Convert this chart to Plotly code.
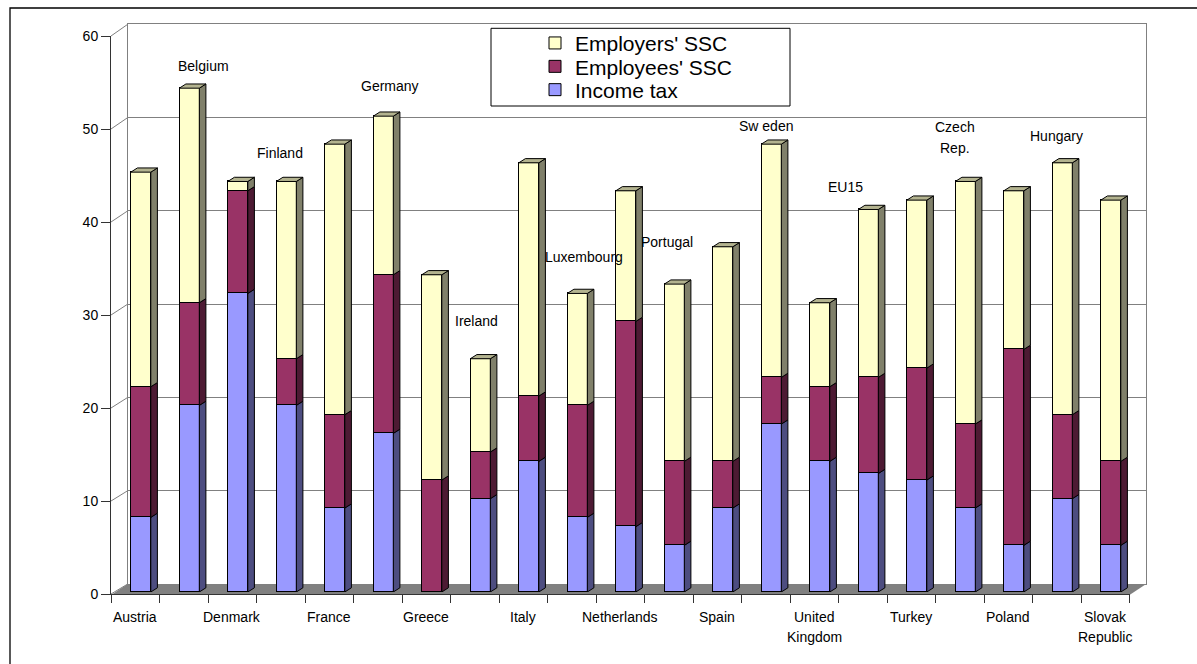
import plotly.graph_objects as go

# ---------------- data ----------------
countries = ["Austria", "Belgium", "Denmark", "Finland", "France", "Germany", "Greece",
             "Ireland", "Italy", "Luxembourg", "Netherlands", "Portugal", "Spain", "Sweden",
             "United Kingdom", "EU15", "Turkey", "Czech Rep.", "Poland", "Hungary",
             "Slovak Republic"]
display_labels = ["Austria", "Belgium", "Denmark", "Finland", "France", "Germany", "Greece",
                  "Ireland", "Italy", "Luxembourg", "Netherlands", "Portugal", "Spain", "Sw eden",
                  "United\nKingdom", "EU15", "Turkey", "Czech\nRep.", "Poland", "Hungary",
                  "Slovak\nRepublic"]
income_tax = [8, 20, 32, 20, 9, 17, 0, 10, 14, 8, 7, 5, 9, 18, 14, 12.7, 12, 9, 5, 10, 5]
employees_ssc = [14, 11, 11, 5, 10, 17, 12, 5, 7, 12, 22, 9, 5, 5, 8, 10.3, 12, 9, 21, 9, 9]
employers_ssc = [23, 23, 1, 19, 29, 17, 22, 10, 25, 12, 14, 19, 23, 25, 9, 18, 18, 26, 17, 27, 28]
series_names = ["Income tax", "Employees' SSC", "Employers' SSC"]
y_ticks = [0, 10, 20, 30, 40, 50, 60]

# ---------------- layout geometry (pixels) ----------------
W, H = 1197, 664
CAT_W = 48.5
FRONT_LEFT, FRONT_Y0, FRONT_Y60 = 111.0, 594.0, 36.0
WALL_LEFT, WALL_Y0, WALL_Y60 = 127.7, 584.0, 24.3
BAR_C0, BAR_Y0, BAR_Y60 = 140.8, 592.0, 32.2
BAR_W_PX, DX_PX, DY_PX = 20.0, 6.6, 4.2
FONT = "Liberation Sans, Arial, sans-serif"


def fx(p):
    return p / W


def fy(p):
    return 1 - p / H


n = len(countries)
xs = list(range(n))

C = {
    "inc": "#9999ff", "inc_side": "#4d4d80",
    "emp": "#993366", "emp_side": "#4d1a33",
    "er": "#ffffcc", "er_side": "#80806a", "top": "#b3b38f",
}

fig = go.Figure()

# back wall subplot (x / y)
fig.add_trace(go.Scatter(x=[None], y=[None], xaxis="x", yaxis="y", showlegend=False, hoverinfo="skip"))

# bars (x2 / y2)
bar_w = BAR_W_PX / CAT_W
legend_ids = ["legend3", "legend2", "legend"]
for name, vals, col, lg in zip(series_names, [income_tax, employees_ssc, employers_ssc],
                               [C["inc"], C["emp"], C["er"]], legend_ids):
    fig.add_trace(go.Bar(x=xs, y=vals, name=name, legend=lg,
                         marker=dict(color=col, line=dict(color="black", width=1)),
                         width=bar_w, xaxis="x2", yaxis="y2", hoverinfo="skip"))

# 3D side and top faces
dx = DX_PX / CAT_W
dy = DY_PX / ((BAR_Y0 - BAR_Y60) / 60)
side_cols = [C["inc_side"], C["emp_side"], C["er_side"]]
bottoms = [0] * n
for k, vals in enumerate([income_tax, employees_ssc, employers_ssc]):
    px_, py_ = [], []
    for i in range(n):
        b, t = bottoms[i], bottoms[i] + vals[i]
        if vals[i] > 0:
            xr = i + bar_w / 2
            px_ += [xr, xr + dx, xr + dx, xr, xr, None]
            py_ += [b, b + dy, t + dy, t, b, None]
        bottoms[i] = t
    fig.add_trace(go.Scatter(x=px_, y=py_, mode="lines", fill="toself", fillcolor=side_cols[k],
                             line=dict(color="black", width=1), xaxis="x2", yaxis="y2",
                             showlegend=False, hoverinfo="skip"))
tx, ty = [], []
for i in range(n):
    xl, xr, T = i - bar_w / 2, i + bar_w / 2, bottoms[i]
    tx += [xl, xl + dx, xr + dx, xr, xl, None]
    ty += [T, T + dy, T + dy, T, T, None]
fig.add_trace(go.Scatter(x=tx, y=ty, mode="lines", fill="toself", fillcolor=C["top"],
                         line=dict(color="black", width=1), xaxis="x2", yaxis="y2",
                         showlegend=False, hoverinfo="skip"))

# front axes (x3 / y3)
fig.add_trace(go.Scatter(x=[None], y=[None], xaxis="x3", yaxis="y3", showlegend=False, hoverinfo="skip"))

wall_right = WALL_LEFT + n * CAT_W
front_right = FRONT_LEFT + n * CAT_W
bar_left = BAR_C0 - CAT_W / 2

legend_style = dict(xanchor="left", yanchor="middle", bgcolor="rgba(0,0,0,0)", borderwidth=0,
                    font=dict(size=21, family=FONT, color="black"))
LEG_X = 535
legend_rows = {"legend": 43.3, "legend2": 66.7, "legend3": 90.0}

fig.update_layout(
    width=W, height=H, autosize=False,
    margin=dict(l=0, r=0, t=0, b=0, pad=0, autoexpand=False),
    paper_bgcolor="white", plot_bgcolor="rgba(0,0,0,0)",
    barmode="stack", bargap=0,
    font=dict(family=FONT, size=14, color="black"),
    xaxis=dict(domain=[fx(WALL_LEFT), fx(wall_right)], range=[0, 1], anchor="y",
               showgrid=False, zeroline=False, showticklabels=False, ticks="",
               showline=True, mirror=True, linecolor="#808080", linewidth=1, layer="below traces"),
    yaxis=dict(domain=[fy(WALL_Y0), fy(WALL_Y60)], range=[0, 60], anchor="x",
               tickvals=y_ticks, showgrid=True, gridcolor="#808080", gridwidth=1,
               zeroline=False, showticklabels=False, ticks="",
               showline=True, mirror=True, linecolor="#808080", linewidth=1, layer="below traces"),
    xaxis2=dict(domain=[fx(bar_left), fx(bar_left + n * CAT_W)], range=[-0.5, n - 0.5],
                anchor="y2", visible=False),
    yaxis2=dict(domain=[fy(BAR_Y0), fy(BAR_Y60)], range=[0, 60], anchor="x2", visible=False),
    xaxis3=dict(domain=[fx(FRONT_LEFT), fx(front_right)], range=[-0.5, n - 0.5], anchor="y3",
                tickvals=[i - 0.5 for i in range(n + 1)], ticks="outside", ticklen=8,
                tickcolor="#333333", showticklabels=False, showgrid=False, zeroline=False,
                showline=True, linecolor="#333333", linewidth=1),
    yaxis3=dict(domain=[fy(FRONT_Y0), fy(FRONT_Y60)], range=[0, 60], anchor="x3",
                tickvals=y_ticks, ticks="outside", ticklen=9, tickcolor="#333333",
                tickfont=dict(size=14, family=FONT, color="black"),
                showgrid=False, zeroline=False, showline=True, linecolor="#333333", linewidth=1),
)
for lg, row_y in legend_rows.items():
    fig.update_layout({lg: dict(x=fx(LEG_X), y=fy(row_y), **legend_style)})

shapes = []
# floor
shapes.append(dict(type="path", xref="paper", yref="paper", layer="below",
                   path=f"M {fx(FRONT_LEFT)},{fy(FRONT_Y0 + 1)} L {fx(front_right)},{fy(FRONT_Y0 + 1)} "
                        f"L {fx(wall_right)},{fy(WALL_Y0)} L {fx(WALL_LEFT)},{fy(WALL_Y0)} Z",
                   fillcolor="#808080", line=dict(width=0)))
# side-wall diagonals
for v in y_ticks:
    yf = FRONT_Y0 + (FRONT_Y60 - FRONT_Y0) * v / 60
    yw = WALL_Y0 + (WALL_Y60 - WALL_Y0) * v / 60
    shapes.append(dict(type="line", xref="paper", yref="paper", layer="below",
                       x0=fx(FRONT_LEFT), y0=fy(yf), x1=fx(WALL_LEFT), y1=fy(yw),
                       line=dict(color="#808080", width=1)))
# legend box
shapes.append(dict(type="rect", xref="paper", yref="paper", layer="above",
                   x0=fx(491), y0=fy(28.3), x1=fx(790), y1=fy(106),
                   fillcolor="white", line=dict(color="black", width=1)))
# outer frame (extends past the bottom/right edges)
shapes.append(dict(type="rect", xref="paper", yref="paper", layer="below",
                   x0=fx(10), y0=fy(8), x1=fx(1210), y1=fy(680),
                   line=dict(color="black", width=1.3)))
fig.update_layout(shapes=shapes)

annotations = []
# category labels under the front axis (every other category)
for i in range(0, n, 2):
    for k, line in enumerate(display_labels[i].split("\n")):
        annotations.append(dict(x=i, y=fy(616.5 + 20.5 * k), xref="x3", yref="paper",
                                text=line, showarrow=False, xanchor="center", yanchor="middle",
                                font=dict(size=14, family=FONT, color="black")))
# labels placed above the remaining bars: index -> (x shift, y in bar units)
label_pos = {1: (0.30, 56.4), 3: (-0.12, 47.1), 5: (0.14, 54.2), 7: (-0.07, 29.0),
             9: (0.13, 35.9), 11: (-0.15, 37.5), 13: (-0.10, 49.9), 15: (-0.48, 43.4),
             17: (-0.22, 48.7), 19: (-0.11, 48.9)}
unit_px = (BAR_Y0 - BAR_Y60) / 60
for i, (sx, sy) in label_pos.items():
    lines = display_labels[i].split("\n")
    for k, line in enumerate(lines):
        off = (k - (len(lines) - 1) / 2) * 20.4 / unit_px
        annotations.append(dict(x=i + sx, y=sy - off, xref="x2", yref="y2", text=line,
                                showarrow=False, xanchor="center", yanchor="middle",
                                font=dict(size=14, family=FONT, color="black")))
fig.update_layout(annotations=annotations)

fig.write_html("out.html",
               post_script="document.body.style.margin='0';document.body.style.overflow='hidden';")
